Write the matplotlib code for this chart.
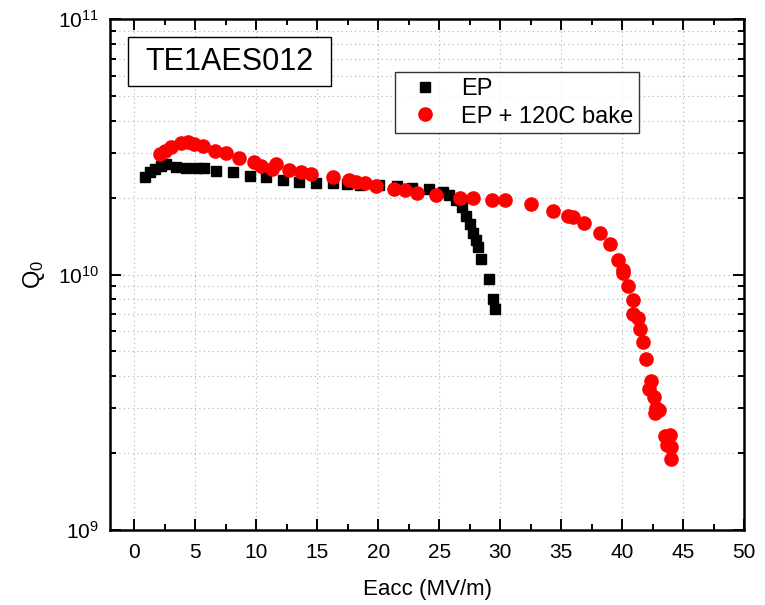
import numpy as np
import matplotlib
matplotlib.use('Agg')
import matplotlib.pyplot as plt
from matplotlib.patches import Rectangle
from matplotlib.ticker import LogLocator, MultipleLocator

plt.rcParams['font.family'] = ['Liberation Sans', 'DejaVu Sans']
plt.rcParams['mathtext.fontset'] = 'custom'
plt.rcParams['mathtext.rm'] = 'Liberation Sans'
plt.rcParams['mathtext.it'] = 'Liberation Sans:italic'

# EP (black squares)
ep_e = [0.9, 1.25, 1.7, 2.2, 2.6, 3.4, 4.2, 5.1, 5.7, 6.7, 8.1, 9.5, 10.8, 12.2, 13.5, 14.9, 16.3,
        17.4, 18.5, 20.1, 21.5, 22.8, 24.2, 25.3, 25.8, 26.4, 26.9, 27.2, 27.5, 27.75, 28.0, 28.2,
        28.4, 29.1, 29.4, 29.6]
ep_q = [2.40e10, 2.51e10, 2.59e10, 2.67e10, 2.71e10, 2.63e10, 2.62e10, 2.62e10, 2.60e10, 2.55e10,
        2.51e10, 2.44e10, 2.40e10, 2.34e10, 2.31e10, 2.29e10, 2.29e10,
        2.26e10, 2.24e10, 2.24e10, 2.23e10, 2.19e10, 2.16e10, 2.10e10, 2.04e10, 1.95e10, 1.83e10,
        1.70e10, 1.58e10, 1.46e10, 1.36e10, 1.28e10, 1.15e10, 9.6e9, 8.0e9, 7.35e9]

# EP + 120C bake (red circles)
bake_e = [2.1, 2.5, 3.0, 3.85, 4.4, 4.9, 5.6, 6.6, 7.5, 8.6, 9.8, 10.4, 11.3, 11.6, 12.7, 13.7,
          14.5, 16.3, 17.6, 18.2, 18.9, 19.8, 21.3, 22.2, 23.2, 24.7, 26.7, 27.75, 29.3, 30.4,
          32.5, 34.3, 35.6, 36.0, 36.85, 38.2, 39.0, 39.7, 40.05, 40.1, 40.5, 40.9, 40.9, 41.3,
          41.5, 41.7, 42.0, 42.4, 42.2, 42.6, 42.8, 43.05, 42.7, 43.5, 43.9, 43.7, 44.0, 44.0]
bake_q = [2.96e10, 3.05e10, 3.16e10, 3.26e10, 3.29e10, 3.24e10, 3.19e10, 3.03e10, 2.99e10,
          2.87e10, 2.76e10, 2.67e10, 2.59e10, 2.71e10, 2.56e10, 2.51e10, 2.47e10, 2.40e10,
          2.34e10, 2.31e10, 2.28e10, 2.23e10, 2.17e10, 2.14e10, 2.08e10, 2.05e10, 2.00e10,
          1.99e10, 1.95e10, 1.95e10, 1.89e10, 1.77e10, 1.70e10, 1.68e10, 1.59e10, 1.46e10,
          1.32e10, 1.14e10, 1.04e10, 1.01e10, 8.98e9, 7.96e9, 7.02e9, 6.75e9, 6.1e9, 5.44e9,
          4.66e9, 3.83e9, 3.55e9, 3.32e9, 2.99e9, 2.94e9, 2.86e9, 2.33e9, 2.35e9, 2.15e9,
          2.12e9, 1.89e9]

fig = plt.figure(figsize=(7.65, 6.05), dpi=100)
ax = fig.add_axes([110/765, 75/605, 634/765, 511/605])

ax.plot(ep_e, ep_q, 's', color='black', markersize=7.2, label='EP', zorder=3)
ax.plot(bake_e, bake_q, 'o', color='red', markersize=9.5, label='EP + 120C bake', zorder=3)

ax.set_yscale('log')
ax.set_xlim(-2, 50)
ax.set_ylim(1e9, 1e11)
ax.xaxis.set_major_locator(MultipleLocator(5))
ax.xaxis.set_minor_locator(MultipleLocator(2.5))
ax.yaxis.set_major_locator(LogLocator(base=10))
ax.yaxis.set_minor_locator(LogLocator(base=10, subs=np.arange(2, 10)))

ax.grid(True, which='major', axis='x', linestyle=(0, (1, 3)), color='#b0b0b0', linewidth=0.8)
ax.grid(True, which='both', axis='y', linestyle=(0, (1, 3)), color='#b0b0b0', linewidth=0.8)
ax.set_axisbelow(True)

ax.tick_params(which='both', direction='in', top=True, right=True, labelsize=15, width=1.4)
ax.tick_params(which='major', length=8)
ax.tick_params(which='minor', length=4)
ax.tick_params(axis='x', which='major', pad=9)
ax.tick_params(axis='y', which='major', pad=8)
for s in ax.spines.values():
    s.set_linewidth(1.8)

ax.set_xlabel('Eacc (MV/m)', fontsize=16)
ax.xaxis.set_label_coords(0.5, -0.095)
ax.set_ylabel('Q$_0$', fontsize=17)
ax.yaxis.set_label_coords(-0.1, 0.5)

leg = ax.legend(loc='upper left', bbox_to_anchor=(0.4495, 0.8957), borderaxespad=0,
                fontsize=17, frameon=True, fancybox=False, edgecolor='black',
                handletextpad=0.45, borderpad=0.24, labelspacing=0.24, handlelength=2.1)
leg.get_frame().set_linewidth(1.0)

ax.add_patch(Rectangle((0.0284, 0.8689), 0.3202, 0.0959, transform=ax.transAxes,
                       facecolor='white', edgecolor='black', linewidth=1.0, zorder=4))
ax.text(0.1885, 0.9168, 'TE1AES012', transform=ax.transAxes, fontsize=22,
        ha='center', va='center', zorder=5)

fig.savefig('out.png', dpi=100)
